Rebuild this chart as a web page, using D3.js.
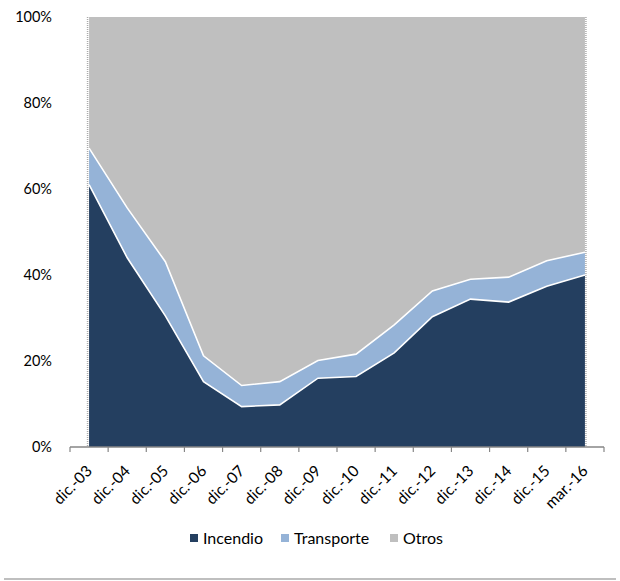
<!DOCTYPE html>
<html><head><meta charset="utf-8">
<script src="https://cdn.jsdelivr.net/npm/d3@7"></script>
<style>body{margin:0;background:#fff}svg{display:block}text{font-family:Lato,"Open Sans",sans-serif;fill:#000}</style>
</head><body><svg id="c" width="620" height="581"></svg>
<script>
const categories = ["dic.-03","dic.-04","dic.-05","dic.-06","dic.-07","dic.-08","dic.-09","dic.-10","dic.-11","dic.-12","dic.-13","dic.-14","dic.-15","mar.-16"];
const incendio   = [61, 44, 30.5, 15.2, 9.4, 9.8, 16, 16.4, 21.9, 30.3, 34.4, 33.7, 37.4, 40];
const transporte = [8.5, 11.6, 12.6, 6, 4.9, 5.4, 4.1, 5.2, 6.5, 6, 4.6, 5.8, 5.9, 5.3];
const otros = incendio.map((v,i)=> +(100 - v - transporte[i]).toFixed(1));
const seriesNames = ["Incendio","Transporte","Otros"];
const yTicks = [0,20,40,60,80,100];
const colors = ["#243f60","#95b3d7","#bfbfbf"];

const svg = d3.select("#c");
const x0 = 70, x1 = 604, yTop = 17, yBot = 447;
const band = d3.scaleBand().domain(categories).range([x0,x1]);
const x = d => band(d) + band.bandwidth()/2;
const y = d3.scaleLinear().domain([0,100]).range([yBot,yTop]);

const rows = categories.map((c,i)=>({cat:c, Incendio:incendio[i], Transporte:transporte[i], Otros:otros[i]}));
const stack = d3.stack().keys(seriesNames)(rows);

// dotted edge lines
[categories[0], categories[categories.length-1]].forEach((c,k)=>{
  svg.append("line").attr("x1",x(c)+(k?1:-1.5)).attr("x2",x(c)+(k?1:-1.5)).attr("y1",yTop).attr("y2",yBot)
    .attr("stroke","#aaa").attr("stroke-width",1.5).attr("stroke-dasharray","1,1");
});

const area = d3.area().x(d=>x(d.data.cat)).y0(d=>y(d[0])).y1(d=>y(d[1]));
svg.append("g").selectAll("path").data(stack).join("path")
  .attr("d",area).attr("fill",(d,i)=>colors[i]);
// white separator lines
const line = d3.line().x(d=>x(d.data.cat)).y(d=>y(d[1]));
svg.append("g").selectAll("path").data(stack.slice(0,2)).join("path")
  .attr("d",line).attr("fill","none").attr("stroke","#fff").attr("stroke-width",1.6);

// x axis
const axisG = svg.append("g").attr("transform",`translate(0,${yBot})`);
axisG.append("line").attr("x1",x0).attr("x2",x1).attr("stroke","#868686").attr("stroke-width",1.5);
const tickPos = categories.map(c=>band(c)).concat([x1]);
axisG.selectAll("line.t").data(tickPos).join("line").attr("class","t")
  .attr("x1",d=>d).attr("x2",d=>d).attr("y1",0).attr("y2",5).attr("stroke","#868686").attr("stroke-width",1.2);
axisG.selectAll("text").data(categories).join("text")
  .attr("transform",d=>`translate(${x(d)+4},${25}) rotate(-45)`)
  .attr("text-anchor","end").attr("font-size",15.5).text(d=>d);

// y labels
svg.append("g").selectAll("text").data(yTicks).join("text")
  .attr("x",52).attr("y",d=>y(d)+5).attr("text-anchor","end").attr("font-size",14.5).text(d=>d+"%");

// legend
const lg = svg.append("g");
const lx = [190, 281, 390];
seriesNames.forEach((n,i)=>{
  lg.append("rect").attr("x",lx[i]).attr("y",534).attr("width",8).attr("height",8).attr("fill",colors[i]);
  lg.append("text").attr("x",lx[i]+13).attr("y",544).attr("font-size",16).text(n);
});
svg.append("line").attr("x1",4).attr("x2",616).attr("y1",579).attr("y2",579).attr("stroke","#bfbfbf").attr("stroke-width",2);
</script></body></html>
